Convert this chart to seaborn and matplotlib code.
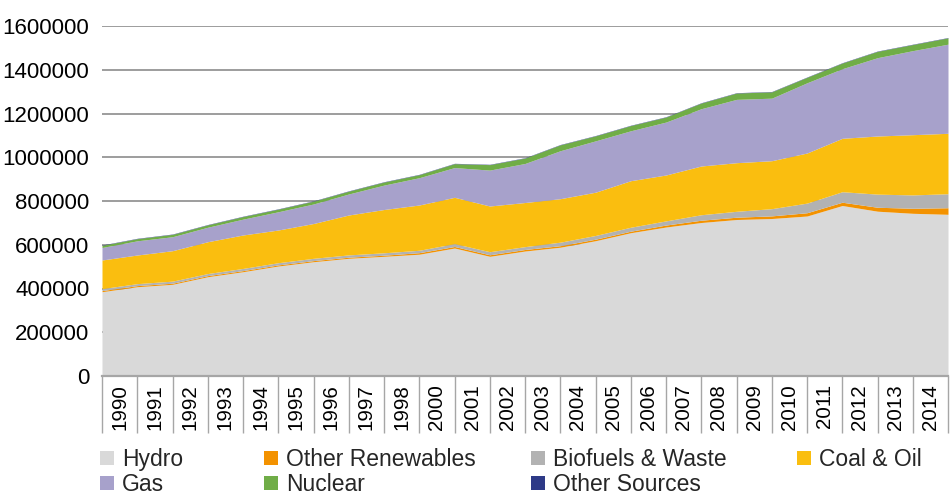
import numpy as np
import matplotlib
matplotlib.use("Agg")
import matplotlib.pyplot as plt
import seaborn as sns

# category labels (no 1999 in the source data)
years = ["1990", "1991", "1992", "1993", "1994", "1995", "1996", "1997", "1998",
         "2000", "2001", "2002", "2003", "2004", "2005", "2006", "2007", "2008",
         "2009", "2010", "2011", "2012", "2013", "2014"]

# values; the last entry of every series is the reading
# at the right edge of the plot (the chart runs on past the crop)
hydro = [385400, 408200, 419200, 453900, 476800, 502900, 522500, 538100, 547200,
         556800, 585100, 547200, 571400, 588800, 618500, 655100, 681100, 701700,
         715400, 720000, 731400, 779400, 753400, 743800, 739200]
other_ren = [5000, 5000, 5000, 5000, 5000, 5000, 5000, 5000, 5000,
             7000, 7000, 7000, 7000, 7000, 7000, 7000, 9000, 10500,
             10500, 12000, 15000, 15000, 18000, 23000, 30000]
biofuels = [9000, 9000, 9500, 9500, 10000, 10000, 10500, 10500, 11000,
            11000, 13000, 14000, 13000, 16000, 17000, 18000, 19000, 25000,
            27000, 33000, 44000, 48000, 60000, 61000, 64000]
coal_oil = [130900, 130900, 139100, 145500, 152800, 149500, 159100, 182400, 197900,
            206900, 211800, 208900, 201700, 198700, 197700, 212700, 209800, 222800,
            222200, 219200, 229000, 244200, 265700, 275300, 276300]
gas = [57100, 64900, 63800, 66200, 72400, 83400, 89300, 96100, 111600,
       124800, 135900, 164200, 178400, 219300, 234700, 228200, 242000, 261900,
       289500, 285900, 321000, 318200, 358100, 384200, 407400]
nuclear = [10000, 10000, 11000, 11000, 12000, 12000, 13000, 13000, 14000,
           14000, 18000, 25000, 25000, 27000, 23000, 24000, 23000, 26000,
           29000, 29000, 25000, 26000, 29000, 28000, 29000]
other_src = [1500, 1500, 1500, 1500, 1500, 1500, 1500, 1500, 1500,
             1500, 1500, 1500, 1500, 1500, 1500, 1500, 1500, 1500,
             1500, 1500, 1500, 1500, 1500, 1500, 1500]

series = ["Hydro", "Other Renewables", "Biofuels & Waste", "Coal & Oil",
          "Gas", "Nuclear", "Other Sources"]
colors = ["#d9d9d9", "#f39200", "#b2b2b2", "#fabe0f",
          "#a7a1cb", "#70ad47", "#2e3a87"]

sns.set_theme(style="white")
plt.rcParams["font.family"] = ["Liberation Sans", "DejaVu Sans"]

W, H = 950, 495
fig = plt.figure(figsize=(W / 100, H / 100), dpi=100)
ax = fig.add_axes([102 / W, 1 - 376 / H, 846 / W, 350 / H])

x = np.arange(len(hydro))
ax.stackplot(x, hydro, other_ren, biofuels, coal_oil, gas, nuclear, other_src,
             colors=colors, labels=series, linewidth=0)

ax.set_xlim(0, 23.83)
ax.set_ylim(0, 1600000)
ax.set_yticks(np.arange(0, 1600001, 200000))
ax.set_yticklabels([str(v) for v in range(0, 1600001, 200000)])
ax.yaxis.grid(True, color="#8c8c8c", linewidth=1.2)
ax.xaxis.grid(False)
ax.set_axisbelow(True)

ax.set_xticks(np.arange(len(years)) + 0.5)
ax.set_xticklabels(years, rotation=90, fontsize=14.8)
ax.set_xticks(np.arange(len(years) + 1), minor=True)
ax.tick_params(axis="x", which="major", length=0, pad=6, colors="black")
ax.tick_params(axis="x", which="minor", bottom=True, direction="out",
               length=41, width=1, color="#a6a6a6")
ax.tick_params(axis="y", length=0, pad=9, labelsize=16, colors="black")

for side in ["left", "top", "right"]:
    ax.spines[side].set_visible(False)
ax.spines["bottom"].set_color("#a6a6a6")
ax.spines["bottom"].set_linewidth(1.6)

handles, labels = ax.get_legend_handles_labels()
columns = [[0, 4], [1, 5], [2, 6], [3]]
col_x = [100, 264, 531, 797]
for idx, cx in zip(columns, col_x):
    fig.legend([handles[i] for i in idx], [labels[i] for i in idx],
               loc="upper left", bbox_to_anchor=(cx / W, 1 - 448 / H),
               frameon=False, fontsize=16.5, handlelength=0.6, handleheight=0.6,
               handletextpad=0.35, labelspacing=0.1, borderpad=0, borderaxespad=0)

fig.savefig("out.png", dpi=100)
